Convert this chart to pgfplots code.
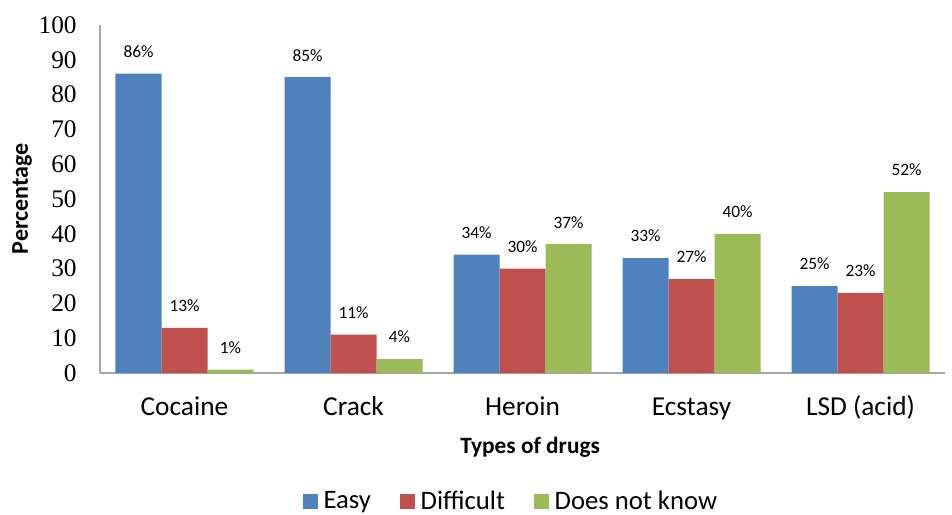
\documentclass[border=0pt]{standalone}
\usepackage{fontspec}
\setmainfont{Carlito}
\newfontfamily\timesf{Liberation Serif}
\usepackage{pgfplots}
\pgfplotsset{compat=1.18}
\definecolor{cEasy}{HTML}{4F81BD}
\definecolor{cDiff}{HTML}{C0504D}
\definecolor{cDnk}{HTML}{9BBB59}
\pgfplotsset{legsq/.style={legend image code/.code={\fill[##1] (0pt,-5.6pt) rectangle (11.25pt,5.6pt);}}}
\begin{document}
\begin{tikzpicture}
\useasboundingbox (0,0) rectangle (714pt,385.5pt);
\begin{axis}[
  at={(75pt,105.75pt)}, anchor=south west,
  scale only axis, width=633.75pt, height=261pt,
  xmin=-0.5, xmax=4.5, ymin=0, ymax=100,
  ybar=0pt, bar width=34.5pt,
  axis x line=bottom, axis y line=left,
  axis line style={draw=gray!70, line width=1pt, -},
  xtick={0,1,2,3,4},
  xticklabels={Cocaine,Crack,Heroin,Ecstasy,LSD (acid)},
  ytick={0,10,...,100},
  major tick length=0pt,
  /pgf/number format/assume math mode=true,
  yticklabel style={font=\timesf\fontsize{19}{19}\selectfont, xshift=-14pt},
  xticklabel style={font=\fontsize{20.5}{20.5}\selectfont, text height=15pt, text depth=5pt, yshift=-13.5pt},
  xlabel={\textbf{Types of drugs}},
  ylabel={\textbf{Percentage}},
  every axis x label/.style={at={(axis description cs:0.509,-0.2126)}, anchor=center, font=\fontsize{17.5}{17.5}\selectfont},
  every axis y label/.style={at={(axis description cs:-0.0923,0.5)}, anchor=center, rotate=90, font=\fontsize{18}{18}\selectfont},
  nodes near coords={\pgfmathprintnumber{\pgfplotspointmeta}\%},
  every node near coord/.append style={font=\fontsize{13}{13}\selectfont, yshift=8.5pt, text=black},
  legend style={at={(axis description cs:0.487,-0.368)}, anchor=center, draw=none,
    font=\fontsize{20}{20}\selectfont,
    /tikz/every odd column/.append style={column sep=2pt},
    /tikz/every even column/.append style={column sep=20pt}},
  legend columns=-1,
  clip=false,
]
\addplot[fill=cEasy, draw=none, legsq] coordinates {(0,86) (1,85) (2,34) (3,33) (4,25)};
\addplot[fill=cDiff, draw=none, legsq] coordinates {(0,13) (1,11) (2,30) (3,27) (4,23)};
\addplot[fill=cDnk, draw=none, legsq] coordinates {(0,1) (1,4) (2,37) (3,40) (4,52)};
\legend{Easy, Difficult, Does not know}
\end{axis}
\end{tikzpicture}
\end{document}
